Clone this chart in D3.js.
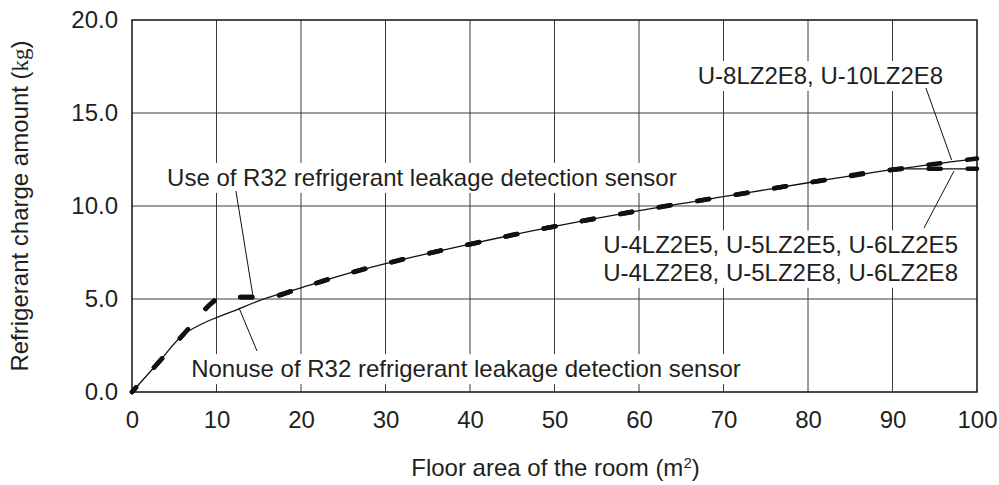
<!DOCTYPE html>
<html>
<head>
<meta charset="utf-8">
<script src="https://cdn.jsdelivr.net/npm/d3@7"></script>
<style>
  html, body { margin: 0; padding: 0; background: #fff; }
  svg { display: block; }
  text { font-family: "Liberation Sans", Arial, Helvetica, sans-serif; fill: #231f20; }
</style>
</head>
<body>
<svg id="chart" width="999" height="485"></svg>
<script>
// ---- data ----
const xTicks = [0, 10, 20, 30, 40, 50, 60, 70, 80, 90, 100];
const xTickLabels = ["0", "10", "20", "30", "40", "50", "60", "70", "80", "90", "100"];
const yTicks = [0, 5, 10, 15, 20];
const yTickLabels = ["0.0", "5.0", "10.0", "15.0", "20.0"];

// Nonuse of R32 refrigerant leakage detection sensor (thin solid line)
const areaNonuse   = [0, 3, 6, 8, 10, 12, 15, 20, 25, 30, 40, 50, 60, 70, 80, 90, 100];
const chargeNonuse = [0, 1.52, 3.05, 3.6, 4.0, 4.35, 4.9, 5.6, 6.3, 6.9, 7.95, 8.9, 9.75, 10.5, 11.25, 11.95, 12.55];
// Lower tail for U-4/5/6LZ2E5, U-4/5/6LZ2E8 (capped)
const areaNonuseCap   = [90, 91.5, 100];
const chargeNonuseCap = [11.95, 12.0, 12.0];

// Use of R32 refrigerant leakage detection sensor (thick dashed line)
const areaUse   = [0, 3, 6, 9.6, 10.2, 10.9, 16, 20, 25, 30, 40, 50, 60, 70, 80, 90, 100];
const chargeUse = [0, 1.52, 3.05, 4.85, 5.06, 5.1, 5.1, 5.6, 6.3, 6.9, 7.95, 8.9, 9.75, 10.5, 11.25, 11.95, 12.55];
const areaUseCap   = [0, 3, 6, 9.6, 10.2, 10.9, 16, 20, 25, 30, 40, 50, 60, 70, 80, 90, 91.5, 100];
const chargeUseCap = [0, 1.52, 3.05, 4.85, 5.06, 5.1, 5.1, 5.6, 6.3, 6.9, 7.95, 8.9, 9.75, 10.5, 11.25, 11.95, 12.0, 12.0];

// Annotations (text in data units)
const labelTexts = [
  "U-8LZ2E8, U-10LZ2E8",
  "Use of R32 refrigerant leakage detection sensor",
  "Nonuse of R32 refrigerant leakage detection sensor",
  "U-4LZ2E5, U-5LZ2E5, U-6LZ2E5",
  "U-4LZ2E8, U-5LZ2E8, U-6LZ2E8"
];
const labelX = [96.0, 4.15, 7.0, 97.75, 97.75];
const labelY = [16.56, 11.08, 0.8, 7.45, 5.98];
const labelAnchor = ["end", "start", "start", "end", "end"];
const leaderX1 = [93.96, 12.3, 12.66, 97.28];
const leaderY1 = [16.34, 10.8, 4.52, 11.88];
const leaderX2 = [97.0, 14.3, 14.8, 93.73];
const leaderY2 = [12.47, 5.2, 2.2, 8.82];

// ---- layout ----
const svg = d3.select("#chart");
const pL = 132, pR = 977, pT = 20, pB = 392;
const x = d3.scaleLinear().domain([0, 100]).range([pL, pR]);
const y = d3.scaleLinear().domain([0, 20]).range([pB, pT]);

// grid
const grid = svg.append("g").attr("stroke", "#3a3a3a").attr("stroke-width", 1);
grid.selectAll("line.v").data(xTicks.slice(1, -1)).join("line")
  .attr("x1", d => x(d)).attr("x2", d => x(d))
  .attr("y1", pT).attr("y2", pB);
grid.selectAll("line.h").data(yTicks.slice(1, -1)).join("line")
  .attr("x1", pL).attr("x2", pR)
  .attr("y1", d => y(d)).attr("y2", d => y(d));

// axes (labels only)
const fmtX = d => xTickLabels[xTicks.indexOf(d)];
const fmtY = d => yTickLabels[yTicks.indexOf(d)];
const gx = svg.append("g").attr("transform", `translate(0,${pB})`)
  .call(d3.axisBottom(x).tickValues(xTicks).tickFormat(fmtX).tickSize(0).tickPadding(19));
const gy = svg.append("g").attr("transform", `translate(${pL},0)`)
  .call(d3.axisLeft(y).tickValues(yTicks).tickFormat(fmtY).tickSize(0).tickPadding(14));
[gx, gy].forEach(g => {
  g.select(".domain").remove();
  g.selectAll("text").attr("font-size", 24).attr("fill", "#231f20")
    .attr("font-family", '"Liberation Sans", Arial, sans-serif');
});

// axis titles
const xt = svg.append("text").attr("x", (pL + pR) / 2 + 1).attr("y", 476)
  .attr("text-anchor", "middle").attr("font-size", 24);
xt.append("tspan").text("Floor area of the room (m");
xt.append("tspan").text("2").attr("font-size", 15).attr("dy", -8);
xt.append("tspan").text(")").attr("dy", 8);

const yt = svg.append("text").attr("transform", `translate(28,${(pT + pB) / 2}) rotate(-90)`)
  .attr("text-anchor", "middle").attr("font-size", 24);
yt.append("tspan").text("Refrigerant charge amount (");
yt.append("tspan").text("kg").attr("font-family", '"Liberation Serif", "DejaVu Serif", serif').attr("font-size", 23);
yt.append("tspan").text(")");

// lines
const line = d3.line().x(d => x(d[0])).y(d => y(d[1])).curve(d3.curveMonotoneX);
const zip = (a, b) => a.map((v, i) => [v, b[i]]);

const thin = svg.append("g").attr("fill", "none").attr("stroke", "#111").attr("stroke-width", 1.3);
thin.append("path").attr("d", line(zip(areaNonuse, chargeNonuse)));
thin.append("path").attr("d", line(zip(areaNonuseCap, chargeNonuseCap)));

const dashed = svg.append("g").attr("fill", "none").attr("stroke", "#111")
  .attr("stroke-width", 4.6).attr("stroke-linecap", "round")
  .attr("stroke-dasharray", "12,27").attr("stroke-dashoffset", 6);
dashed.append("path").attr("d", line(zip(areaUseCap, chargeUseCap)));
dashed.append("path").attr("d", line(zip(areaUse, chargeUse)));

// border
svg.append("rect").attr("x", pL).attr("y", pT).attr("width", pR - pL).attr("height", pB - pT)
  .attr("fill", "none").attr("stroke", "#111").attr("stroke-width", 1.5);

// labels with white backgrounds
const lab = svg.append("g");
labelTexts.forEach((t, i) => {
  const bg = lab.append("rect").attr("fill", "#fff");
  const tx = lab.append("text").attr("x", x(labelX[i])).attr("y", y(labelY[i]))
    .attr("text-anchor", labelAnchor[i]).attr("font-size", 24).text(t);
  const bb = tx.node().getBBox();
  bg.attr("x", bb.x - 3).attr("y", bb.y - 1).attr("width", bb.width + 6).attr("height", bb.height + 3);
});

// leader lines
svg.append("g").attr("stroke", "#111").attr("stroke-width", 1)
  .selectAll("line").data(leaderX1).join("line")
  .attr("x1", (d, i) => x(leaderX1[i])).attr("y1", (d, i) => y(leaderY1[i]))
  .attr("x2", (d, i) => x(leaderX2[i])).attr("y2", (d, i) => y(leaderY2[i]));
</script>
</body>
</html>
